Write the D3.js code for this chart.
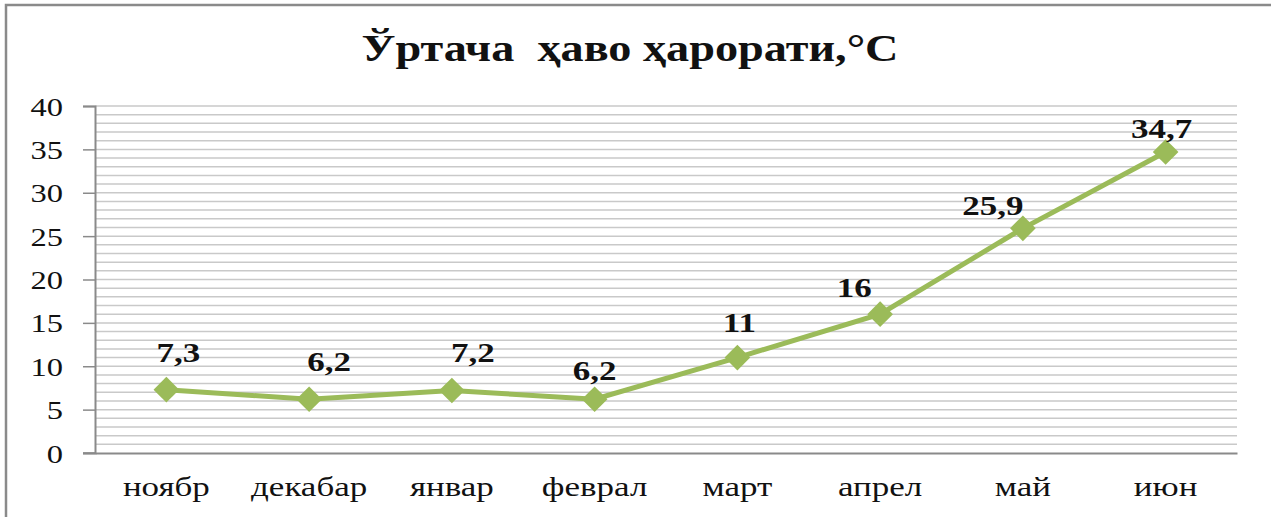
<!DOCTYPE html>
<html>
<head>
<meta charset="utf-8">
<title>Ўртача ҳаво ҳарорати</title>
<script src="https://cdn.jsdelivr.net/npm/d3@7/dist/d3.min.js"></script>
<style>
body { margin: 0; background: #fff; }
svg { display: block; font-family: "Liberation Serif", "Times New Roman", serif; }
</style>
</head>
<body>
<script>
  // data
  var months = ["ноябр", "декабар", "январ", "феврал", "март", "апрел", "май", "июн"];
  var temps = [7.3, 6.2, 7.2, 6.2, 11, 16, 25.9, 34.7];
  var yTicks = [0, 5, 10, 15, 20, 25, 30, 35, 40];
  // label nudges (pixels), as placed in the original
  var labelDx = [12, 20, 21, 0, 2, -26, -30, -4];
  var labelDy = [-38, -38, -39, -29, -36, -27, -23, -24];

  var width = 1271, height = 517;
  var plot = { left: 95, right: 1237, top: 106, bottom: 453 };
  var sx = 1.25; // text in the original is stretched a bit
  var serif = "'Liberation Serif', 'Times New Roman', serif";

  var svg = d3.select("body").append("svg").attr("width", width).attr("height", height);

  // outer frame
  svg.append("rect")
    .attr("x", 6).attr("y", 5).attr("width", width + 10).attr("height", height + 10)
    .attr("fill", "#fff").attr("stroke", "#8a8a8a").attr("stroke-width", 2.5);

  var x = d3.scaleBand().domain(months).range([plot.left, plot.right]);
  var y = d3.scaleLinear().domain([0, 40]).range([plot.bottom, plot.top]);

  // minor gridlines every 1 degree
  svg.append("g").selectAll("line")
    .data(d3.range(1, 41))
    .enter().append("line")
    .attr("x1", plot.left).attr("x2", plot.right)
    .attr("y1", function(d) { return y(d); }).attr("y2", function(d) { return y(d); })
    .attr("stroke", "#c9c9c9").attr("stroke-width", 1.5);

  // y axis
  var yAxis = svg.append("g")
    .attr("transform", "translate(" + plot.left + ",0)")
    .call(d3.axisLeft(y).tickValues(yTicks).tickSize(12).tickFormat(d3.format("d")))
    .attr("font-family", serif);
  yAxis.select(".domain").attr("stroke", "#8a8a8a").attr("stroke-width", 2);
  yAxis.selectAll(".tick line").attr("stroke", "#8a8a8a").attr("stroke-width", 1.5);
  yAxis.selectAll(".tick text")
    .attr("x", null).attr("dy", null)
    .attr("transform", "translate(-32,9) scale(" + sx + ",1)")
    .attr("font-size", 26).attr("fill", "#111");

  // x axis line + labels
  var xAxis = svg.append("g")
    .attr("transform", "translate(0," + plot.bottom + ")")
    .call(d3.axisBottom(x).tickSize(0))
    .attr("font-family", serif);
  xAxis.select(".domain").attr("stroke", "#8a8a8a").attr("stroke-width", 2);
  xAxis.selectAll(".tick text")
    .attr("y", null).attr("dy", null)
    .attr("transform", "translate(0,43) scale(" + sx + ",1)")
    .attr("font-size", 28).attr("fill", "#111");
  // extend x baseline left to the tick
  svg.append("line")
    .attr("x1", plot.left - 12).attr("x2", plot.left)
    .attr("y1", plot.bottom).attr("y2", plot.bottom)
    .attr("stroke", "#8a8a8a").attr("stroke-width", 1.5);

  var cx = function(d, i) { return x(months[i]) + x.bandwidth() / 2; };

  // line
  var line = d3.line()
    .x(function(d, i) { return cx(d, i); })
    .y(function(d) { return y(d); });
  svg.append("path")
    .datum(temps)
    .attr("d", line)
    .attr("fill", "none")
    .attr("stroke", "#9bbb59")
    .attr("stroke-width", 5);

  // diamond markers
  svg.append("g").selectAll("path")
    .data(temps)
    .enter().append("path")
    .attr("d", d3.symbol().type(d3.symbolDiamond2).size(420))
    .attr("transform", function(d, i) { return "translate(" + cx(d, i) + "," + y(d) + ")"; })
    .attr("fill", "#9bbb59");

  // data labels
  svg.append("g").selectAll("text")
    .data(temps)
    .enter().append("text")
    .attr("transform", function(d, i) {
      return "translate(" + (cx(d, i) + labelDx[i]) + "," + (y(d) + labelDy[i] + 10) + ") scale(" + sx + ",1)";
    })
    .attr("text-anchor", "middle")
    .attr("font-size", 28).attr("font-weight", "bold").attr("fill", "#111")
    .text(function(d) { return String(d).replace(".", ","); });

  // title (keeps the double space of the original)
  svg.append("text")
    .attr("transform", "translate(630,61) scale(" + sx + ",1)")
    .attr("text-anchor", "middle")
    .style("white-space", "pre")
    .attr("font-size", 37).attr("font-weight", "bold").attr("fill", "#111")
    .text("Ўртача  ҳаво ҳарорати,°C");
</script>
</body>
</html>
